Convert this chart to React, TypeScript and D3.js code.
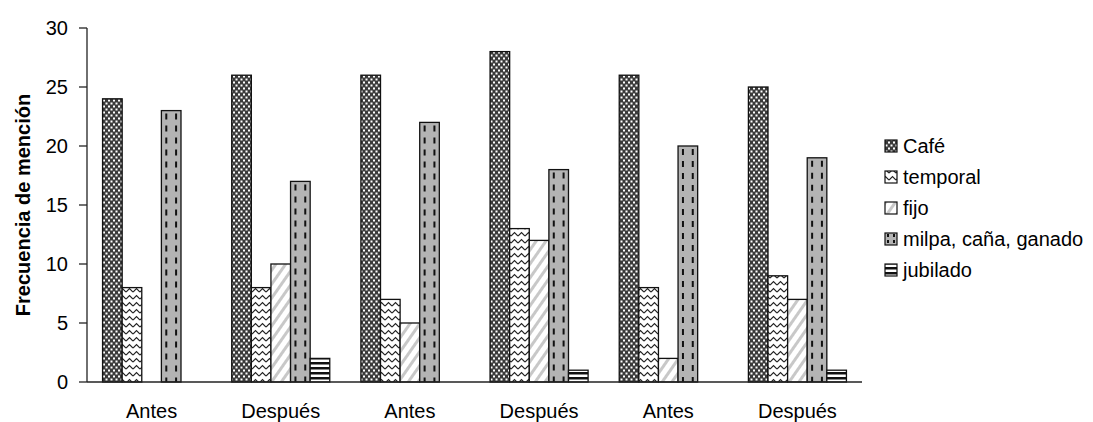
import React from "react";
import * as d3 from "d3";

const groups = ["Antes", "Después", "Antes", "Después", "Antes", "Después"];
const seriesNames = ["Café", "temporal", "fijo", "milpa, caña, ganado", "jubilado"];
const cafe = [24, 26, 26, 28, 26, 25];
const temporal = [8, 8, 7, 13, 8, 9];
const fijo = [0, 10, 5, 12, 2, 7];
const milpa = [23, 17, 22, 18, 20, 19];
const jubilado = [0, 2, 0, 1, 0, 1];
const yTicks = [0, 5, 10, 15, 20, 25, 30];

const seriesValues = [cafe, temporal, fijo, milpa, jubilado];
const patternIds = ["p-cafe", "p-temporal", "p-fijo", "p-milpa", "p-jubilado"];

const W = 1093;
const H = 422;
const left = 87;
const right = 862;
const top = 28;
const bottom = 382;
const FONT = "Arial, 'Liberation Sans', Helvetica, sans-serif";

export default function App() {
  const x0 = d3
    .scaleBand<number>()
    .domain(groups.map((_, i) => i))
    .range([left, right])
    .paddingInner(0.241)
    .paddingOuter(0.1205);
  const x1 = d3
    .scaleBand<number>()
    .domain(seriesNames.map((_, i) => i))
    .range([0, x0.bandwidth()]);
  const y = d3.scaleLinear().domain([0, 30]).range([bottom, top]);

  const bars: React.ReactNode[] = [];
  groups.forEach((_, gi) => {
    seriesValues.forEach((vals, si) => {
      const v = vals[gi];
      if (!v) return;
      const bx = (x0(gi) as number) + (x1(si) as number);
      const bw = x1.bandwidth();
      const by = y(v);
      const bh = y(0) - y(v);
      bars.push(
        <g key={`b-${gi}-${si}`}>
          <rect x={bx} y={by} width={bw} height={bh} fill={`url(#${patternIds[si]})`} />
          {si === 3 &&
            [0.25, 0.75].map((f) => (
              <line
                key={f}
                x1={bx + bw * f}
                x2={bx + bw * f}
                y1={by + 3}
                y2={by + bh}
                stroke="#111"
                strokeWidth={2}
                strokeDasharray="6 6"
              />
            ))}
          <rect x={bx} y={by} width={bw} height={bh} fill="none" stroke="#111" strokeWidth={1.3} />
        </g>
      );
    });
  });

  const legendY = (i: number) => 146 + i * 31;

  return (
    <svg
      width={W}
      height={H}
      style={{ position: "fixed", left: 0, top: 0, background: "#fff" }}
      fontFamily={FONT}
    >
      <defs>
        <pattern id="p-cafe" patternUnits="userSpaceOnUse" width={5} height={6}>
          <rect width={5} height={6} fill="#3a3a3a" />
          <rect x={0.5} y={0.5} width={2} height={2} fill="#fff" />
          <rect x={3} y={3.5} width={2} height={2} fill="#fff" />
        </pattern>
        <pattern id="p-temporal" patternUnits="userSpaceOnUse" width={7} height={7}>
          <rect width={7} height={7} fill="#fff" />
          <path d="M0,5 L3.5,1.5 L7,5" fill="none" stroke="#222" strokeWidth={1.2} />
        </pattern>
        <pattern
          id="p-fijo"
          patternUnits="userSpaceOnUse"
          width={8}
          height={8}
          patternTransform="rotate(35)"
        >
          <rect width={8} height={8} fill="#fff" />
          <rect x={0} y={0} width={3} height={8} fill="#c8c8c8" />
        </pattern>
        <pattern id="p-milpa" patternUnits="userSpaceOnUse" width={6} height={6}>
          <rect width={6} height={6} fill="#b4b4b4" />
        </pattern>
        <pattern id="p-milpa-legend" patternUnits="userSpaceOnUse" x={885} y={0} width={6} height={6}>
          <rect width={6} height={6} fill="#b4b4b4" />
          <rect x={2} y={0} width={2} height={3} fill="#111" />
        </pattern>
        <pattern id="p-jubilado" patternUnits="userSpaceOnUse" width={5} height={5} y={bottom}>
          <rect width={5} height={5} fill="#fff" />
          <rect width={5} height={2.5} fill="#111" />
        </pattern>
      </defs>

      {bars}

      {/* y axis */}
      <line x1={left} x2={left} y1={top} y2={bottom} stroke="#222" strokeWidth={1.3} />
      {yTicks.map((t) => (
        <g key={t}>
          <line x1={left - 8} x2={left} y1={y(t)} y2={y(t)} stroke="#222" strokeWidth={1.3} />
          <text x={left - 19} y={y(t)} dy="0.35em" textAnchor="end" fontSize={20} fill="#000">
            {t}
          </text>
        </g>
      ))}
      {/* x axis */}
      <line x1={left} x2={right} y1={bottom} y2={bottom} stroke="#222" strokeWidth={1.3} />
      {groups.map((g, i) => (
        <text
          key={i}
          x={(x0(i) as number) + x0.bandwidth() / 2}
          y={418}
          textAnchor="middle"
          fontSize={20}
          fill="#000"
        >
          {g}
        </text>
      ))}

      <text
        transform={`translate(30,${(top + bottom) / 2}) rotate(-90)`}
        textAnchor="middle"
        fontSize={20}
        fontWeight="bold"
        fill="#000"
      >
        Frecuencia de mención
      </text>

      {/* legend */}
      {seriesNames.map((s, i) => (
        <g key={s}>
          <rect
            x={885}
            y={legendY(i) - 6}
            width={12}
            height={12}
            fill={i === 3 ? "url(#p-milpa-legend)" : `url(#${patternIds[i]})`}
            stroke="#111"
            strokeWidth={1.2}
          />
          <text x={903} y={legendY(i)} dy="0.35em" fontSize={20} fill="#000">
            {s}
          </text>
        </g>
      ))}
    </svg>
  );
}
